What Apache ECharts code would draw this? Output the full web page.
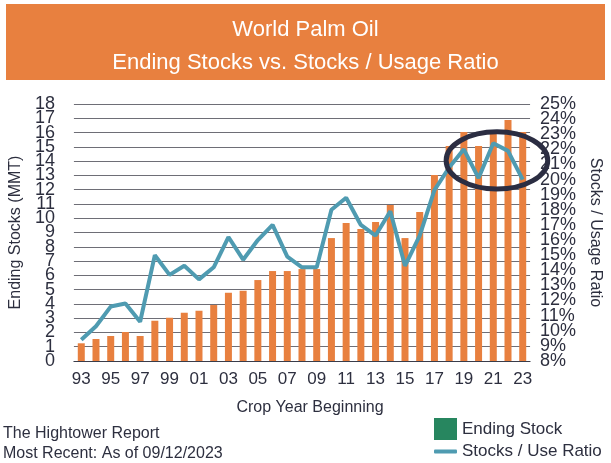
<!DOCTYPE html>
<html>
<head>
<meta charset="utf-8">
<script src="https://cdn.jsdelivr.net/npm/echarts@6/dist/echarts.min.js"></script>
<style>
  html, body { margin: 0; padding: 0; background: #fff; }
  #chart { width: 611px; height: 463px; }
</style>
</head>
<body>
<div id="chart"></div>
<script>
// 数据
const years = ['93','94','95','96','97','98','99','00','01','02','03','04','05','06','07','08',
               '09','10','11','12','13','14','15','16','17','18','19','20','21','22','23'];
const endingStocks = [1.24,1.54,1.75,2.03,1.75,2.82,3.03,3.38,3.52,3.92,4.78,4.92,5.67,6.30,6.30,6.44,
                      6.44,8.61,9.66,9.24,9.73,10.92,8.61,10.43,13.02,15.06,16.04,15.06,16.04,16.88,16.04];
const stocksUseRatio = [9.4,10.3,11.6,11.8,10.6,15.0,13.7,14.3,13.4,14.2,16.2,14.7,16.0,17.0,14.9,14.2,
                        14.2,18.0,18.8,17.0,16.3,17.9,14.3,16.3,19.3,20.8,22.0,20.1,22.4,21.9,20.0];
// 轴范围
const stockRange = [0, 18];
const ratioRange = [8, 25];

const FONT = 'Liberation Sans, Arial, sans-serif';
const TXT = '#2d2f3f';
const ORANGE = '#e8803f';
const TEAL = '#4f9bb1';

const chart = echarts.init(document.getElementById('chart'), null, { renderer: 'canvas' });

// 标签太密时 ECharts 会隐藏首尾相邻的标签，所以用一条叠加的轴补上这两个
function overlayAxis(position, range, margin, suffix) {
    const keep = [range[0] + 1, range[1] - 1];
    return {
        type: 'value', position: position, min: range[0], max: range[1], interval: 1,
        axisLine: { show: false }, axisTick: { show: false }, splitLine: { show: false },
        axisLabel: {
            fontSize: 18, color: TXT, margin: margin,
            showMinLabel: false, showMaxLabel: false,
            formatter: v => keep.indexOf(v) >= 0 ? v + suffix : ''
        }
    };
}

const option = {
    animation: false,
    textStyle: { fontFamily: FONT, color: TXT },
    title: {
        text: 'World Palm Oil\nEnding Stocks vs. Stocks / Usage Ratio',
        left: 'center',
        top: 13,
        padding: 0,
        textStyle: { color: '#fff', fontSize: 22, fontWeight: 'normal', lineHeight: 33, fontFamily: FONT }
    },
    legend: [
        {
            left: 434, top: 418, padding: 0, itemGap: 8,
            itemWidth: 23, itemHeight: 22, icon: 'rect',
            data: [{ name: 'Ending Stock', itemStyle: { color: '#27865f' } }],
            textStyle: { fontSize: 17, color: TXT, fontFamily: FONT }
        },
        {
            left: 434, top: 443, padding: 0,
            itemWidth: 23, itemHeight: 4, icon: 'roundRect',
            data: ['Stocks / Use Ratio'],
            textStyle: { fontSize: 17, color: TXT, fontFamily: FONT }
        }
    ],
    grid: { left: 67, right: 79, top: 104, bottom: 102 },
    xAxis: {
        type: 'category',
        data: years,
        name: 'Crop Year Beginning',
        nameLocation: 'middle',
        nameGap: 39,
        nameTextStyle: { fontSize: 16, color: TXT, padding: [0, 0, 0, 16] },
        axisLine: { lineStyle: { color: '#3a3c4a', width: 1 } },
        axisTick: { interval: 0, length: 5, lineStyle: { color: '#3a3c4a' } },
        axisLabel: { interval: 1, fontSize: 17, color: TXT, margin: 10 }
    },
    yAxis: [
        {
            type: 'value', position: 'left', min: stockRange[0], max: stockRange[1], interval: 1,
            name: 'Ending Stocks (MMT)',
            nameLocation: 'middle', nameRotate: 90, nameGap: 44,
            nameTextStyle: { fontSize: 16, color: TXT },
            axisLine: { show: false }, axisTick: { show: false },
            axisLabel: { fontSize: 18, color: TXT, margin: 19, showMinLabel: true, showMaxLabel: true },
            splitLine: { lineStyle: { color: '#6e6e76', width: 1 } }
        },
        {
            type: 'value', position: 'right', min: ratioRange[0], max: ratioRange[1], interval: 1,
            name: 'Stocks / Usage Ratio',
            nameLocation: 'middle', nameRotate: -90, nameGap: 56,
            nameTextStyle: { fontSize: 16, color: TXT },
            axisLine: { show: false }, axisTick: { show: false },
            axisLabel: { fontSize: 18, color: TXT, margin: 10, formatter: '{value}%', showMinLabel: true, showMaxLabel: true },
            splitLine: { show: false }
        },
        overlayAxis('left', stockRange, 19, ''),
        overlayAxis('right', ratioRange, 10, '%')
    ],
    series: [
        {
            name: 'Ending Stock',
            type: 'bar',
            data: endingStocks,
            barWidth: 7,
            itemStyle: { color: ORANGE }
        },
        {
            name: 'Stocks / Use Ratio',
            type: 'line',
            yAxisIndex: 1,
            data: stocksUseRatio,
            showSymbol: false,
            symbol: 'none',
            lineStyle: { color: TEAL, width: 4 },
            itemStyle: { color: TEAL },
            z: 3
        }
    ]
};
chart.setOption(option);

// 标题背景、脚注和椭圆标注
function addGraphics() {
    const p1 = chart.convertToPixel({ xAxisIndex: 0, yAxisIndex: 0 }, ['18', 16.05]);
    const p2 = chart.convertToPixel({ xAxisIndex: 0, yAxisIndex: 0 }, ['23', 12.05]);
    const cx = (p1[0] + p2[0]) / 2 + 11;
    const cy = (p1[1] + p2[1]) / 2;
    const rx = (p2[0] - p1[0]) / 2 + 14;
    const ry = (p2[1] - p1[1]) / 2;
    chart.setOption({
        graphic: [
            {
                type: 'rect', z: -1, silent: true,
                shape: { x: 6, y: 4, width: 599, height: 76 },
                style: { fill: ORANGE }
            },
            {
                type: 'text', left: 3, top: 424, silent: true,
                style: {
                    text: 'The Hightower Report\nMost Recent: As of 09/12/2023',
                    fill: TXT, font: '16px ' + FONT, lineHeight: 20
                }
            },
            {
                type: 'ellipse', z: 10, silent: true,
                shape: { cx: cx, cy: cy, rx: rx, ry: ry },
                style: { fill: 'none', stroke: '#2b2d42', lineWidth: 5 }
            }
        ]
    });
}
addGraphics();
</script>
</body>
</html>
